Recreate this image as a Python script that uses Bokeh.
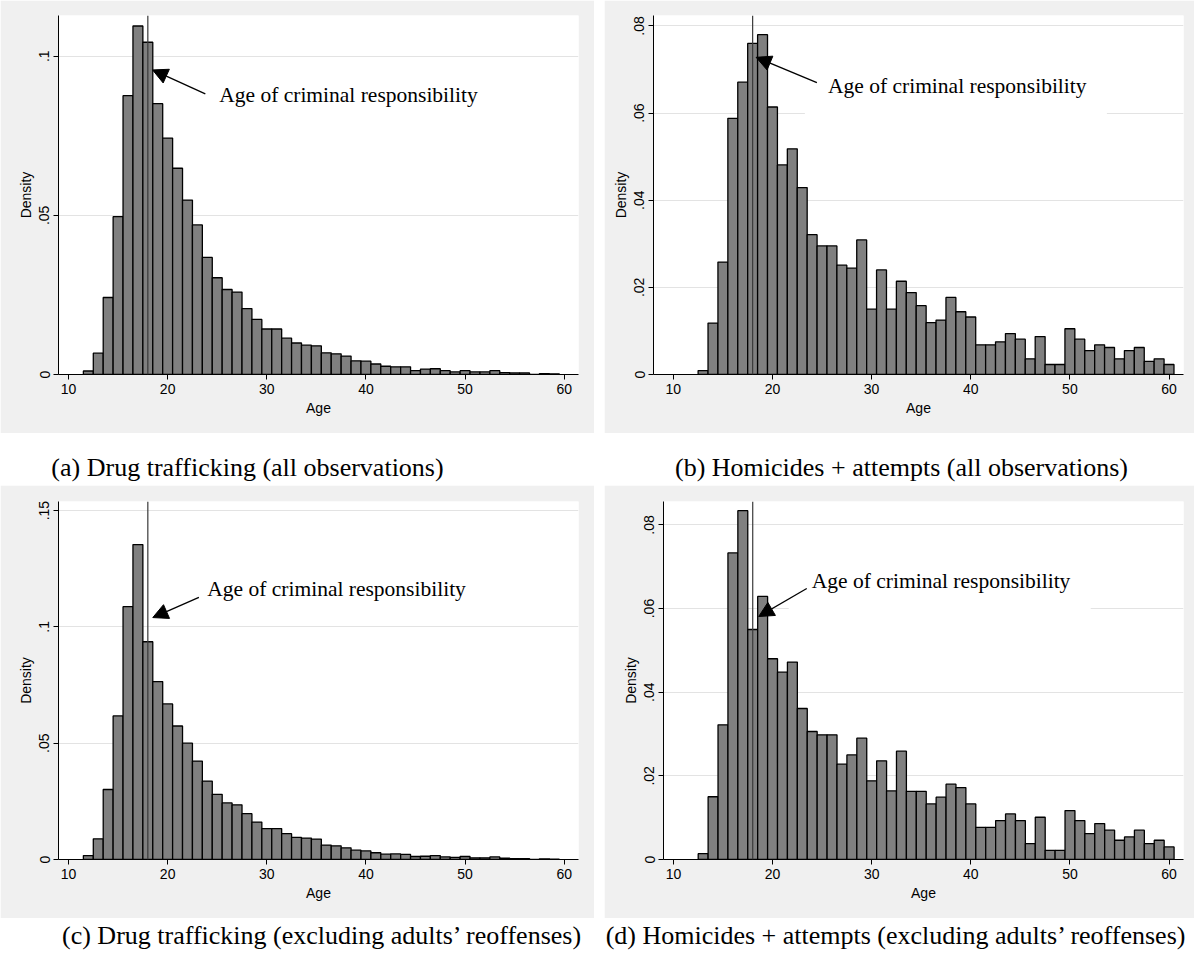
from bokeh.plotting import figure
from bokeh.models import Range1d, FixedTicker, Span, Arrow, NormalHead, Label
from bokeh.layouts import column, row
from bokeh.embed import file_html
from bokeh.resources import INLINE

# ---------------- data ----------------
ages_a = list(range(12, 60))
dens_a = [0.0011, 0.0067, 0.0242, 0.0496, 0.0876, 0.1095, 0.1044, 0.0851, 0.0743, 0.0648,
          0.0548, 0.0470, 0.0368, 0.0304, 0.0267, 0.0259, 0.0207, 0.0173, 0.0143, 0.0143,
          0.0114, 0.0099, 0.0092, 0.0090, 0.0068, 0.0065, 0.0058, 0.0043, 0.0042, 0.0033,
          0.0026, 0.0024, 0.0024, 0.0012, 0.0017, 0.0018, 0.0012, 0.0008, 0.0012, 0.0008,
          0.0008, 0.0012, 0.0006, 0.0005, 0.0005, 0.0000, 0.0003, 0.0002]

ages_b = list(range(13, 61))
dens_b = [0.0009, 0.0118, 0.0258, 0.0588, 0.0671, 0.0760, 0.0780, 0.0614, 0.0481, 0.0518,
          0.0429, 0.0321, 0.0295, 0.0295, 0.0251, 0.0244, 0.0309, 0.0150, 0.0240, 0.0150,
          0.0214, 0.0188, 0.0158, 0.0119, 0.0125, 0.0177, 0.0144, 0.0132, 0.0068, 0.0068,
          0.0075, 0.0094, 0.0081, 0.0036, 0.0087, 0.0023, 0.0023, 0.0105, 0.0081, 0.0055,
          0.0068, 0.0062, 0.0036, 0.0055, 0.0062, 0.0030, 0.0036, 0.0023]

ages_c = list(range(12, 60))
dens_c = [0.0017, 0.0089, 0.0301, 0.0617, 0.1087, 0.1354, 0.0936, 0.0765, 0.0669, 0.0574,
          0.0500, 0.0423, 0.0337, 0.0280, 0.0243, 0.0235, 0.0197, 0.0161, 0.0133, 0.0133,
          0.0111, 0.0095, 0.0092, 0.0088, 0.0062, 0.0059, 0.0050, 0.0040, 0.0037, 0.0029,
          0.0023, 0.0024, 0.0022, 0.0013, 0.0014, 0.0017, 0.0011, 0.0009, 0.0013, 0.0007,
          0.0007, 0.0011, 0.0006, 0.0004, 0.0004, 0.0000, 0.0003, 0.0001]

ages_d = list(range(13, 61))
dens_d = [0.0014, 0.0150, 0.0322, 0.0733, 0.0834, 0.0550, 0.0629, 0.0480, 0.0448, 0.0472,
          0.0361, 0.0306, 0.0298, 0.0298, 0.0228, 0.0250, 0.0290, 0.0188, 0.0236, 0.0164,
          0.0259, 0.0163, 0.0163, 0.0133, 0.0149, 0.0180, 0.0172, 0.0133, 0.0077, 0.0077,
          0.0093, 0.0109, 0.0093, 0.0038, 0.0101, 0.0022, 0.0022, 0.0117, 0.0093, 0.0062,
          0.0086, 0.0070, 0.0046, 0.0054, 0.0070, 0.0038, 0.0046, 0.0030]

x_ticks = [10, 20, 30, 40, 50, 60]
yticks_a = [0, 0.05, 0.1]
ylabels_a = ["0", ".05", ".1"]
yticks_b = [0, 0.02, 0.04, 0.06, 0.08]
ylabels_b = ["0", ".02", ".04", ".06", ".08"]
yticks_c = [0, 0.05, 0.1, 0.15]
ylabels_c = ["0", ".05", ".1", ".15"]
yticks_d = [0, 0.02, 0.04, 0.06, 0.08]
ylabels_d = ["0", ".02", ".04", ".06", ".08"]

responsibility_age = 18
ann_text = "Age of criminal responsibility"
# annotation anchors: text (x, y), arrow tail (x, y), arrow tip (x, y)
ann_a = [(25.2, 0.0878), (23.8, 0.0882), (18.48, 0.0957)]
ann_b = [(25.6, 0.0663), (24.48, 0.0670), (18.35, 0.0728)]
ann_c = [(24.0, 0.1162), (23.15, 0.1127), (18.5, 0.1040)]
ann_d = [(23.96, 0.0666), (23.45, 0.0648), (18.6, 0.0581)]

captions_top = ["(a) Drug trafficking (all observations)",
                "(b) Homicides + attempts (all observations)"]
captions_bottom = ["(c) Drug trafficking (excluding adults\u2019 reoffenses)",
                   "(d) Homicides + attempts (excluding adults\u2019 reoffenses)"]

# ---------------- style ----------------
BG = "#f0f0f0"
BAR = "#808080"
GRID = "#e3e3e3"
SANS = "Liberation Sans"
SERIF = "Liberation Serif"
PANEL_H = 433


def make_panel(ages, dens, x_rng, y_top, yticks, ylabels, width, borders, ann):
    p = figure(width=width, height=PANEL_H,
               x_range=Range1d(*x_rng), y_range=Range1d(0, y_top),
               output_backend="svg", toolbar_location=None,
               min_border_left=borders[0], min_border_right=borders[1],
               min_border_top=borders[2], min_border_bottom=borders[3])
    p.border_fill_color = BG
    p.background_fill_color = "white"
    p.outline_line_color = None

    # axes
    p.xaxis.ticker = FixedTicker(ticks=x_ticks)
    p.yaxis.ticker = FixedTicker(ticks=yticks)
    p.yaxis.major_label_overrides = {t: l for t, l in zip(yticks, ylabels)}
    p.yaxis.major_label_orientation = "vertical"
    p.xaxis.axis_label = "Age"
    p.yaxis.axis_label = "Density"
    for ax in (p.xaxis[0], p.yaxis[0]):
        ax.axis_line_color = "black"
        ax.axis_line_width = 1
        ax.major_tick_line_color = "black"
        ax.major_tick_out = 5
        ax.major_tick_in = 0
        ax.minor_tick_line_color = None
        ax.major_label_text_font = SANS
        ax.major_label_text_font_size = "14px"
        ax.major_label_text_color = "black"
        ax.axis_label_text_font = SANS
        ax.axis_label_text_font_size = "14px"
        ax.axis_label_text_font_style = "normal"
        ax.axis_label_text_color = "black"
        ax.major_label_standoff = 4
        ax.axis_label_standoff = 3

    p.xgrid.visible = False
    p.ygrid.grid_line_color = GRID
    p.ygrid.grid_line_width = 1

    # white text box behind annotation
    (tx, ty), (ax0, ay0), (ax1, ay1) = ann
    p.rect(x=[tx + 12.9], y=[ty], width=[302], height=[60],
           width_units="screen", height_units="screen",
           fill_color="white", line_color=None)

    # bars
    left = [a - 0.5 for a in ages]
    right = [a + 0.5 for a in ages]
    p.quad(left=left, right=right, bottom=0, top=dens,
           fill_color=BAR, line_color="black", line_width=1.3)

    p.add_layout(Span(location=responsibility_age, dimension="height",
                      line_color="#3a3a3a", line_width=1.2))

    p.add_layout(Arrow(end=NormalHead(size=15, fill_color="black", line_color="black", line_width=1),
                       x_start=ax0, y_start=ay0, x_end=ax1, y_end=ay1,
                       line_color="black", line_width=1.3))
    p.add_layout(Label(x=tx, y=ty, text=ann_text, text_font=SERIF,
                       text_font_size="21.5px", text_align="left",
                       text_baseline="middle", text_color="black"))
    return p


pa = make_panel(ages_a, dens_a, (8.99, 61.44), 0.1128, yticks_a, ylabels_a, 594, (58, 16, 15, 59), ann_a)
pb = make_panel(ages_b, dens_b, (8.0, 61.46), 0.0824, yticks_b, ylabels_b, 590, (49, 11, 15, 59), ann_b)
pc = make_panel(ages_c, dens_c, (8.99, 61.44), 0.1539, yticks_c, ylabels_c, 594, (58, 16, 16, 59), ann_c)
pd = make_panel(ages_d, dens_d, (9.0, 61.45), 0.0856, yticks_d, ylabels_d, 590, (59, 11, 16, 59), ann_d)


def caption_fig(height, texts, xs, y):
    c = figure(width=1195, height=height, x_range=Range1d(0, 1195), y_range=Range1d(height, 0),
               x_axis_type=None, y_axis_type=None, min_border=0,
               output_backend="svg", toolbar_location=None)
    c.outline_line_color = None
    c.background_fill_color = "white"
    c.border_fill_color = "white"
    c.xgrid.visible = False
    c.ygrid.visible = False
    for t, x in zip(texts, xs):
        c.add_layout(Label(x=x, y=y, text=t, text_font=SERIF, text_font_size="26px",
                           text_align="center", text_baseline="middle", text_color="black"))
    return c


cap_top = caption_fig(52, captions_top, [247, 901], 34)
cap_bot = caption_fig(32, captions_bottom, [322, 896], 17)

layout = column(row(pa, pb, spacing=10), cap_top, row(pc, pd, spacing=10), cap_bot)

open("out.html", "w").write(file_html(layout, INLINE))
